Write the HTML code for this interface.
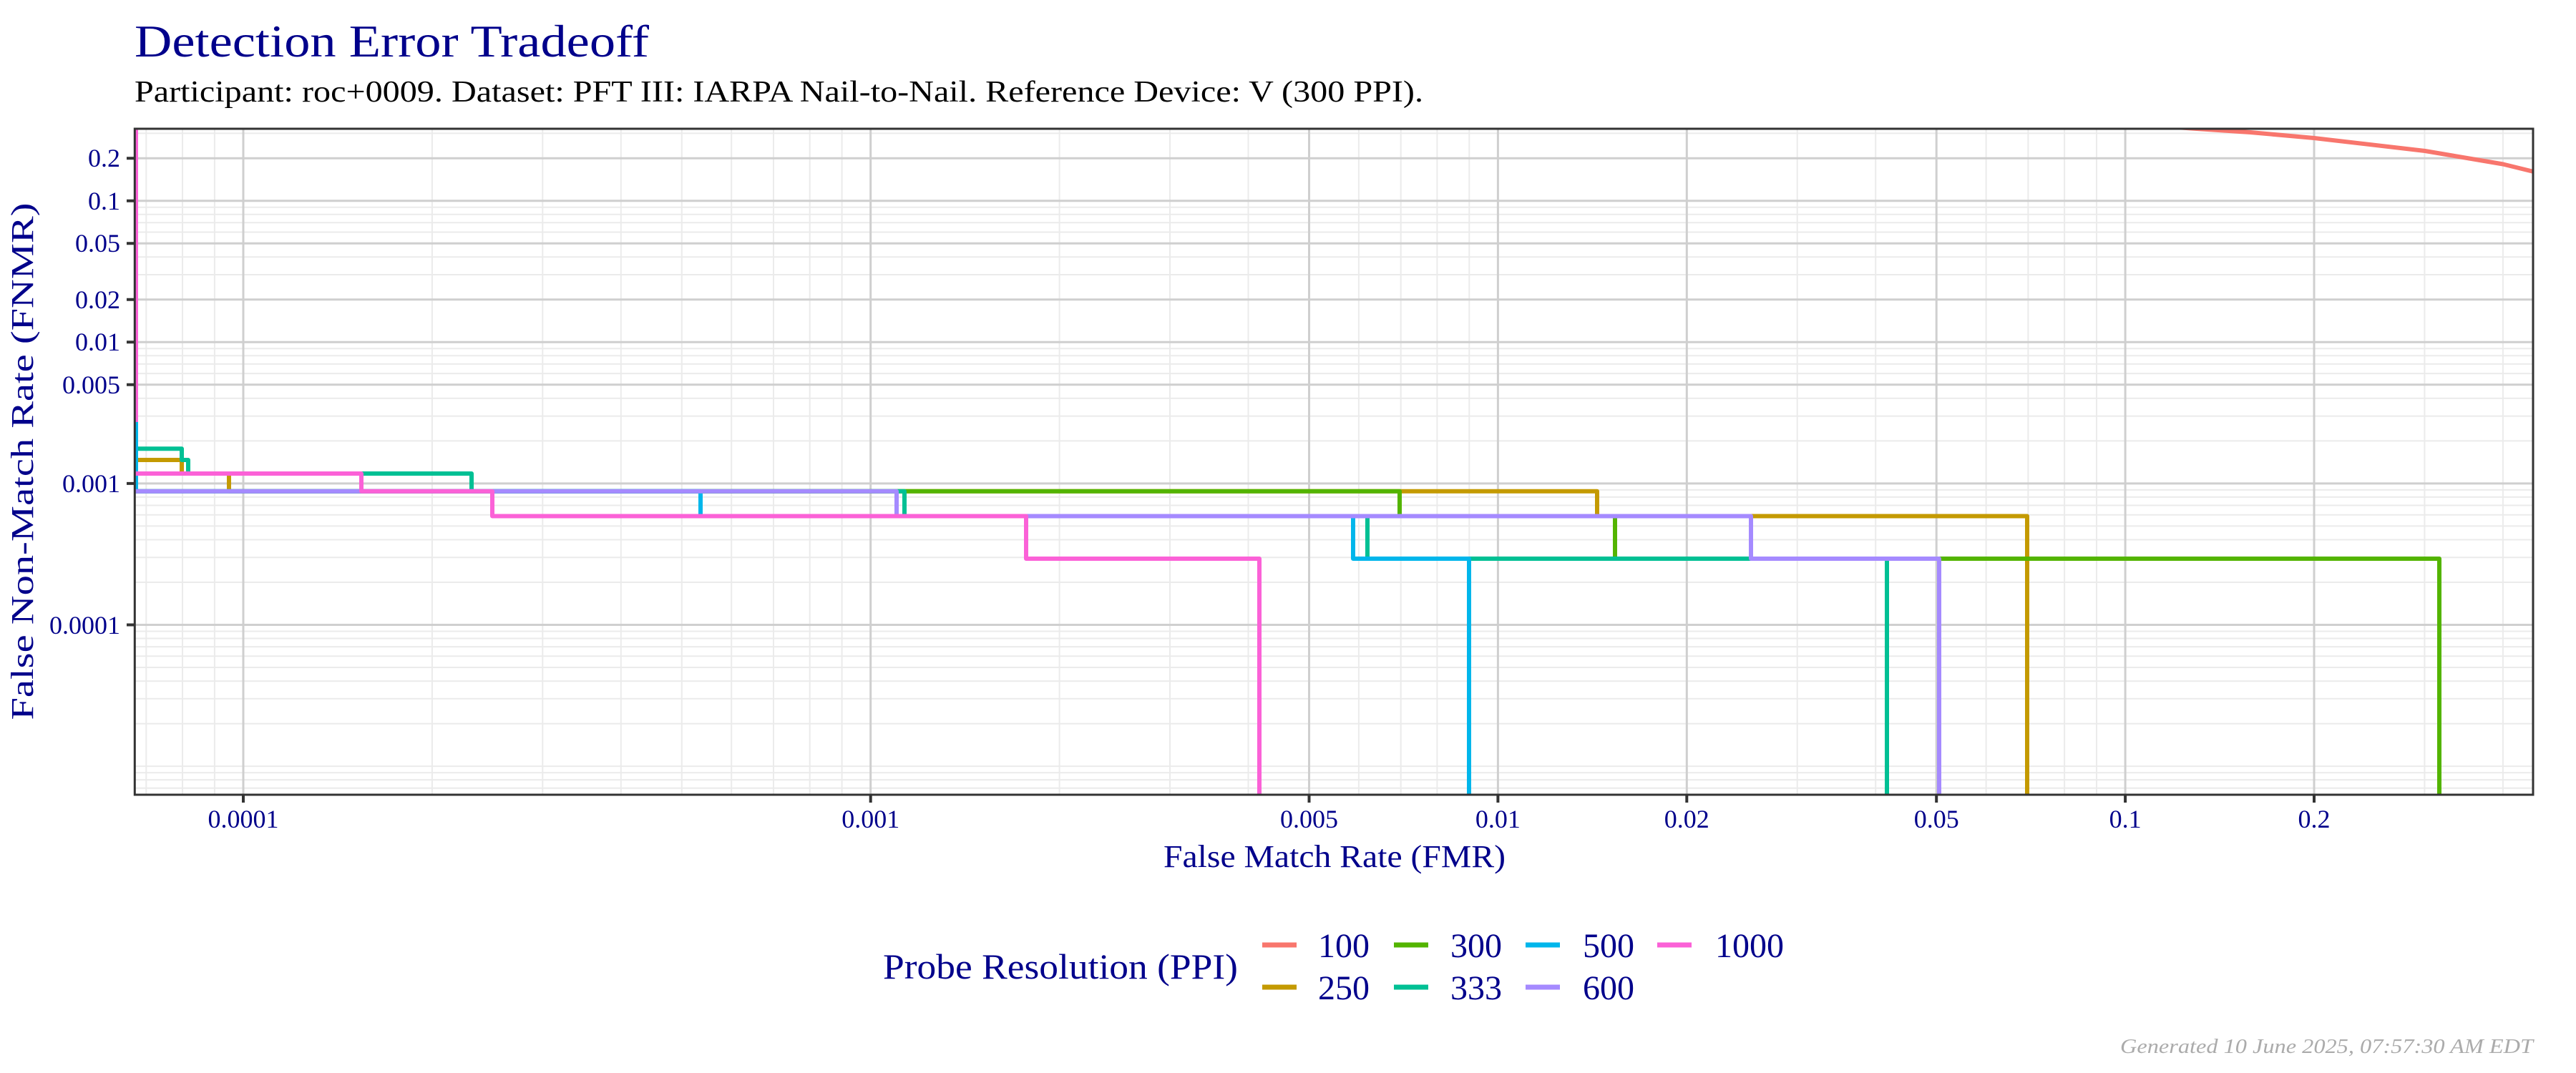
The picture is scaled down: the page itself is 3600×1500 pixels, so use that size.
<!DOCTYPE html>
<html><head><meta charset="utf-8"><style>html,body{margin:0;padding:0;background:#fff}svg{display:block}</style></head>
<body>
<svg width="3600" height="1500" viewBox="0 0 3600 1500" xmlns="http://www.w3.org/2000/svg" font-family="'Liberation Serif', serif">
<defs><clipPath id="pc"><rect x="188.3" y="180" width="3351.7" height="931"/></clipPath></defs>
<rect width="3600" height="1500" fill="#fff"/>
<text x="188" y="79" font-size="64" fill="#00008B" textLength="719" lengthAdjust="spacingAndGlyphs">Detection Error Tradeoff</text>
<text x="188" y="142" font-size="42" fill="#000" textLength="1801" lengthAdjust="spacingAndGlyphs">Participant: roc+0009. Dataset: PFT III: IARPA Nail-to-Nail. Reference Device: V (300 PPI).</text>
<g clip-path="url(#pc)">
<path fill="none" stroke="#EBEBEB" stroke-width="2" d="M204.3,180V1111M255,180V1111M299.9,180V1111M603.9,180V1111M758.3,180V1111M867.8,180V1111M952.8,180V1111M1022.2,180V1111M1081,180V1111M1131.7,180V1111M1176.6,180V1111M1480.6,180V1111M1635,180V1111M1744.5,180V1111M1898.9,180V1111M1957.7,180V1111M2008.4,180V1111M2053.3,180V1111M2511.7,180V1111M2621.2,180V1111M2775.6,180V1111M2834.4,180V1111M2885.1,180V1111M2930,180V1111M3388.4,180V1111M3497.9,180V1111
M188,186.4H3540M188,384H3540M188,359.3H3540M188,324.5H3540M188,311.3H3540M188,299.7H3540M188,289.7H3540M188,616.4H3540M188,581.6H3540M188,556.9H3540M188,522.1H3540M188,508.9H3540M188,497.3H3540M188,487.3H3540M188,814H3540M188,779.2H3540M188,754.5H3540M188,735.4H3540M188,719.7H3540M188,706.5H3540M188,694.9H3540M188,684.9H3540M188,1071.1H3540M188,1011.6H3540M188,976.8H3540M188,952.1H3540M188,933H3540M188,917.3H3540M188,904.1H3540M188,892.5H3540M188,882.5H3540M188,1101.7H3540M188,1090.1H3540M188,1080.1H3540"/>
<path fill="none" stroke="#CFCFCF" stroke-width="3" d="M340,180V1111M1216.7,180V1111M1829.5,180V1111M2093.4,180V1111M2357.3,180V1111M2706.2,180V1111M2970.1,180V1111M3234,180V1111
M188,221.2H3540M188,280.7H3540M188,340.2H3540M188,418.8H3540M188,478.3H3540M188,537.8H3540M188,675.9H3540M188,873.5H3540"/>
<g fill="none" stroke-width="6" stroke-linejoin="round">
<path stroke="#F8766D" d="M3040,178L3070,180L3145,185L3234,193L3389,211L3498,229.5L3545,241"/>
<path stroke="#C49A00" d="M188,643H254V662H320V686.7H2232V721.5H2833V1115"/>
<path stroke="#53B400" d="M188,686.7H1956V721.5H2257V781H3409V1115"/>
<path stroke="#00C094" d="M188,627.2H254V643H263V662H659V686.7H1264V721.5H1911V781H2637V1115"/>
<path stroke="#00B6EB" d="M190,590V686.7H979V721.5H1891V781H2053V1115"/>
<path stroke="#A58AFF" d="M188,686.7H1253V721.5H2447V781H2710V1115"/>
<path stroke="#FB61D7" d="M190,175V590M188,662H505V686.7H688V721.5H1434V781H1760V1115"/>
</g>
</g>
<rect x="188.3" y="180" width="3351.7" height="931" fill="none" stroke="#333" stroke-width="3"/>
<path stroke="#333" stroke-width="4" d="M177,221.2H188M177,280.7H188M177,340.2H188M177,418.8H188M177,478.3H188M177,537.8H188M177,675.9H188M177,873.5H188M340,1111V1122M1216.7,1111V1122M1829.5,1111V1122M2093.4,1111V1122M2357.3,1111V1122M2706.2,1111V1122M2970.1,1111V1122M3234,1111V1122"/>
<g font-size="36" fill="#00008B" text-anchor="end">
<text x="168" y="233">0.2</text><text x="168" y="293">0.1</text><text x="168" y="352">0.05</text><text x="168" y="431">0.02</text><text x="168" y="490">0.01</text><text x="168" y="550">0.005</text><text x="168" y="688">0.001</text><text x="168" y="886">0.0001</text>
</g>
<g font-size="36" fill="#00008B" text-anchor="middle">
<text x="340" y="1157">0.0001</text><text x="1216.7" y="1157">0.001</text><text x="1829.5" y="1157">0.005</text><text x="2093.4" y="1157">0.01</text><text x="2357.3" y="1157">0.02</text><text x="2706.2" y="1157">0.05</text><text x="2970.1" y="1157">0.1</text><text x="3234" y="1157">0.2</text>
</g>
<text x="1865" y="1212" font-size="44" fill="#00008B" text-anchor="middle" textLength="478" lengthAdjust="spacingAndGlyphs">False Match Rate (FMR)</text>
<text transform="translate(46,645) rotate(-90)" font-size="44" fill="#00008B" text-anchor="middle" textLength="723" lengthAdjust="spacingAndGlyphs">False Non-Match Rate (FNMR)</text>
<text x="1234" y="1368" font-size="50" fill="#00008B" textLength="496" lengthAdjust="spacingAndGlyphs">Probe Resolution (PPI)</text>
<g stroke-width="7">
<line x1="1764" y1="1321" x2="1812" y2="1321" stroke="#F8766D"/>
<line x1="1764" y1="1380" x2="1812" y2="1380" stroke="#C49A00"/>
<line x1="1948" y1="1321" x2="1996" y2="1321" stroke="#53B400"/>
<line x1="1948" y1="1380" x2="1996" y2="1380" stroke="#00C094"/>
<line x1="2132" y1="1321" x2="2180" y2="1321" stroke="#00B6EB"/>
<line x1="2132" y1="1380" x2="2180" y2="1380" stroke="#A58AFF"/>
<line x1="2316" y1="1321" x2="2364" y2="1321" stroke="#FB61D7"/>
</g>
<g font-size="48" fill="#00008B">
<text x="1842" y="1338">100</text><text x="1842" y="1397">250</text>
<text x="2027" y="1338">300</text><text x="2027" y="1397">333</text>
<text x="2212" y="1338">500</text><text x="2212" y="1397">600</text>
<text x="2397" y="1338">1000</text>
</g>
<text x="3540" y="1472" font-size="28" font-style="italic" fill="#ABABAB" text-anchor="end" textLength="577" lengthAdjust="spacingAndGlyphs">Generated 10 June 2025, 07:57:30 AM EDT</text>
</svg>
</body></html>
